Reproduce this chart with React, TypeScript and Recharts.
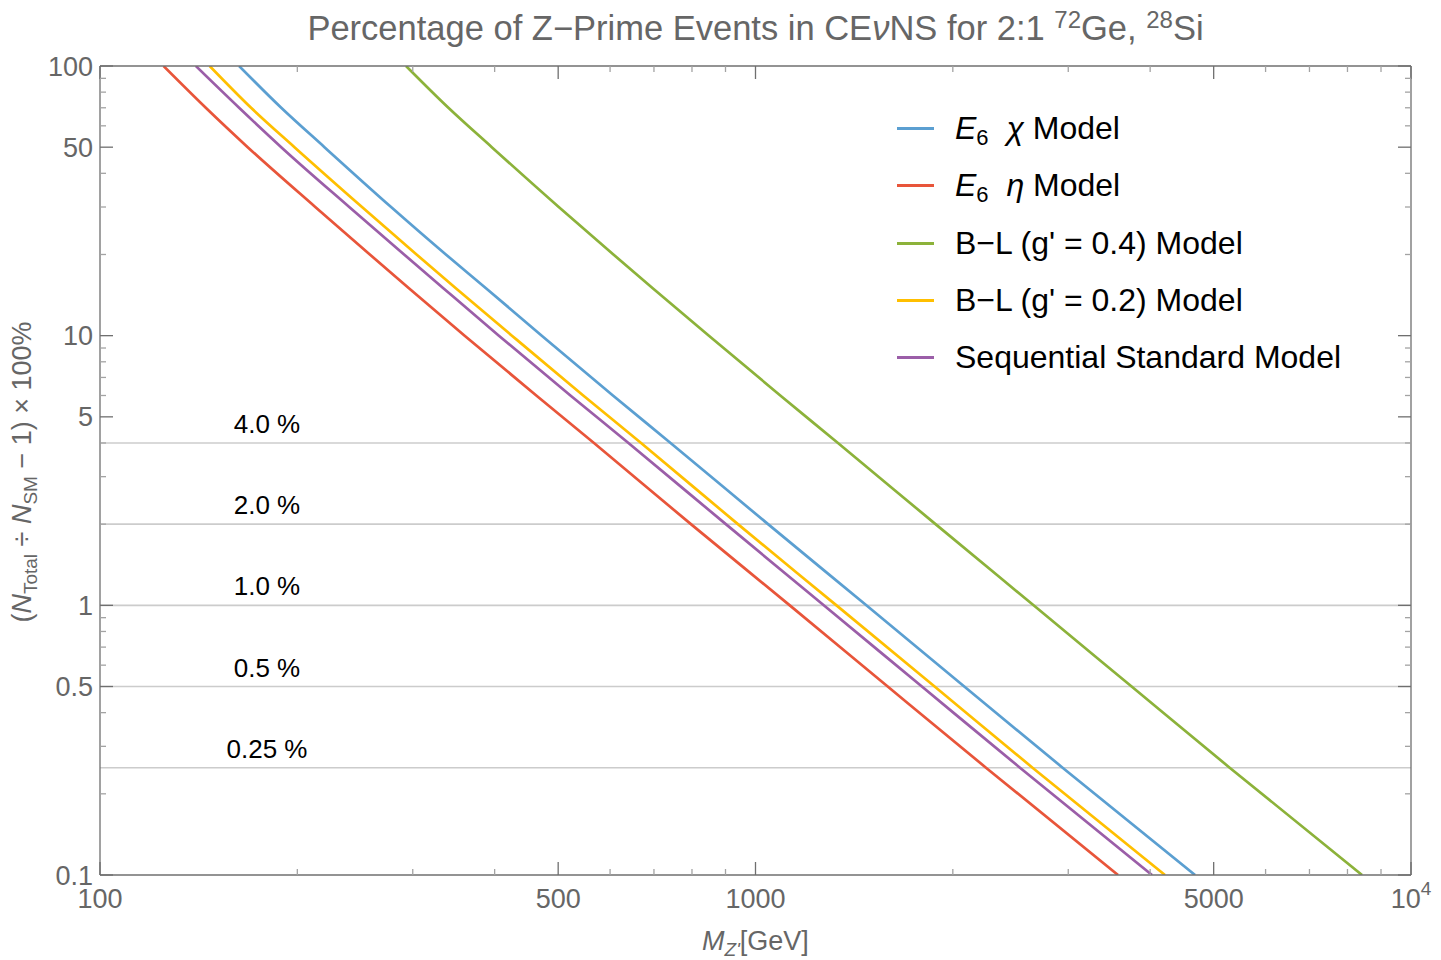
import React from 'react';
import { LineChart, Line, XAxis, YAxis, ReferenceLine } from 'recharts';

// ---- data (Z' mass in GeV at which each curve reaches a given percentage) ----
const percentLevels = [100, 70, 50, 30, 20, 15, 10, 6, 4, 2, 1, 0.5, 0.25, 0.1];
const e6ChiMass = [163, 189, 220, 278, 337, 388, 472, 606, 742, 1045, 1476, 2082, 2941, 4683];
const e6EtaMass = [125, 145, 168, 213, 258, 296, 360, 463, 567, 797, 1128, 1591, 2247, 3573];
const bl04Mass = [293, 340, 396, 501, 607, 697, 849, 1091, 1336, 1882, 2656, 3748, 5289, 8420];
const bl02Mass = [147, 170, 198, 251, 304, 349, 425, 546, 669, 940, 1329, 1876, 2646, 4214];
const ssmMass = [140, 163, 189, 240, 291, 334, 406, 522, 640, 901, 1271, 1794, 2532, 4026];

const seriesKeys = ['e6chi', 'e6eta', 'bl04', 'bl02', 'ssm'];
const seriesMasses = [e6ChiMass, e6EtaMass, bl04Mass, bl02Mass, ssmMass];
const seriesColors = ['#5b9fd1', '#e8553a', '#8cb23a', '#ffbf00', '#9b5ea8'];

const thresholdLevels = [4, 2, 1, 0.5, 0.25];
const thresholdLabels = ['4.0 %', '2.0 %', '1.0 %', '0.5 %', '0.25 %'];

const xMajorTicks = [100, 500, 1000, 5000, 10000];
const xMinorTicks = [200, 300, 400, 600, 700, 800, 900, 2000, 3000, 4000, 6000, 7000, 8000, 9000];
const yMajorTicks = [0.1, 0.5, 1, 5, 10, 50, 100];
const yMinorTicks = [0.2, 0.3, 0.4, 0.6, 0.7, 0.8, 0.9, 2, 3, 4, 6, 7, 8, 9, 20, 30, 40, 60, 70, 80, 90];

const FONT = "'Liberation Sans', Arial, Helvetica, sans-serif";
const AXIS_GRAY = '#6f6f6f';
const MINOR_GRAY = '#a3a3a3';
const TEXT_GRAY = '#666666';
const MAJOR_LEN = 13;
const MINOR_LEN = 6;

const xAllTicks = [...xMajorTicks, ...xMinorTicks].sort((a, b) => a - b);
const yAllTicks = [...yMajorTicks, ...yMinorTicks].sort((a, b) => a - b);

const seriesData = seriesMasses.map((masses) =>
  masses.map((m, i) => ({ x: m, y: percentLevels[i] }))
);

function BottomTick(props: any) {
  const { x, y, payload } = props;
  const v = payload.value;
  const major = xMajorTicks.includes(v);
  return (
    <g>
      <line x1={x} x2={x} y1={y} y2={y - (major ? MAJOR_LEN : MINOR_LEN)} stroke={major ? AXIS_GRAY : MINOR_GRAY} strokeWidth={1.3} />
      {major && (
        v === 10000 ? (
          <text x={x} y={y + 33} textAnchor="middle" fontSize={27} fill={TEXT_GRAY} fontFamily={FONT}>
            10<tspan dy={-13} fontSize={19}>4</tspan>
          </text>
        ) : (
          <text x={x} y={y + 33} textAnchor="middle" fontSize={27} fill={TEXT_GRAY} fontFamily={FONT}>{String(v)}</text>
        )
      )}
    </g>
  );
}

function TopTick(props: any) {
  const { x, y, payload } = props;
  const major = xMajorTicks.includes(payload.value);
  return <line x1={x} x2={x} y1={y} y2={y + (major ? MAJOR_LEN : MINOR_LEN)} stroke={major ? AXIS_GRAY : MINOR_GRAY} strokeWidth={1.3} />;
}

function LeftTick(props: any) {
  const { x, y, payload } = props;
  const v = payload.value;
  const major = yMajorTicks.includes(v);
  return (
    <g>
      <line x1={x} x2={x + (major ? MAJOR_LEN : MINOR_LEN)} y1={y} y2={y} stroke={major ? AXIS_GRAY : MINOR_GRAY} strokeWidth={1.3} />
      {major && (
        <text x={x - 7} y={y + 9.5} textAnchor="end" fontSize={27} fill={TEXT_GRAY} fontFamily={FONT}>{String(v)}</text>
      )}
    </g>
  );
}

function RightTick(props: any) {
  const { x, y, payload } = props;
  const major = yMajorTicks.includes(payload.value);
  return <line x1={x} x2={x - (major ? MAJOR_LEN : MINOR_LEN)} y1={y} y2={y} stroke={major ? AXIS_GRAY : MINOR_GRAY} strokeWidth={1.3} />;
}

function ThresholdLabel(props: any) {
  const { viewBox, text } = props;
  if (!viewBox) return null;
  return (
    <text x={viewBox.x + 167} y={viewBox.y - 10} textAnchor="middle" fontSize={26} fill="#000" fontFamily={FONT}>{text}</text>
  );
}

const subStyle: React.CSSProperties = { fontSize: 22, verticalAlign: -6, lineHeight: 0 };

function LegendLabel({ k }: { k: string }) {
  if (k === 'e6chi')
    return (<span><i>E</i><sub style={subStyle}>6</sub>&nbsp;&nbsp;<i>χ</i> Model</span>);
  if (k === 'e6eta')
    return (<span><i>E</i><sub style={subStyle}>6</sub>&nbsp;&nbsp;<i>η</i> Model</span>);
  if (k === 'bl04') return <span>B−L (g' = 0.4) Model</span>;
  if (k === 'bl02') return <span>B−L (g' = 0.2) Model</span>;
  return <span>Sequential Standard Model</span>;
}

const legendRowY = [128, 185, 243, 300, 357];

export default function App() {
  return (
    <div style={{ position: 'absolute', left: 0, top: 0, width: 1441, height: 960, background: '#fff', fontFamily: FONT }}>
      <LineChart width={1441} height={960} margin={{ top: 65, right: 29, bottom: 0, left: 0 }}>
        <XAxis
          xAxisId="b" orientation="bottom" type="number" dataKey="x" scale="log"
          domain={[100, 10000]} allowDataOverflow ticks={xAllTicks} interval={0}
          tickSize={0} tickMargin={0} tickLine={false} height={85}
          axisLine={{ stroke: AXIS_GRAY, strokeWidth: 1.3 }}
          tick={(p: any) => <BottomTick {...p} />}
        />
        <XAxis
          xAxisId="t" orientation="top" type="number" dataKey="x" scale="log"
          domain={[100, 10000]} allowDataOverflow ticks={xAllTicks} interval={0}
          tickSize={0} tickMargin={0} tickLine={false} height={1}
          axisLine={{ stroke: AXIS_GRAY, strokeWidth: 1.3 }}
          tick={(p: any) => <TopTick {...p} />}
        />
        <YAxis
          yAxisId="l" orientation="left" type="number" scale="log"
          domain={[0.1, 100]} allowDataOverflow ticks={yAllTicks} interval={0}
          tickSize={0} tickMargin={0} tickLine={false} width={100}
          axisLine={{ stroke: AXIS_GRAY, strokeWidth: 1.3 }}
          tick={(p: any) => <LeftTick {...p} />}
        />
        <YAxis
          yAxisId="r" orientation="right" type="number" scale="log"
          domain={[0.1, 100]} allowDataOverflow ticks={yAllTicks} interval={0}
          tickSize={0} tickMargin={0} tickLine={false} width={1}
          axisLine={{ stroke: AXIS_GRAY, strokeWidth: 1.3 }}
          tick={(p: any) => <RightTick {...p} />}
        />
        {thresholdLevels.map((lv, i) => (
          <ReferenceLine
            key={'th' + lv} xAxisId="b" yAxisId="l" y={lv}
            stroke="#cccccc" strokeWidth={1.6}
            label={<ThresholdLabel text={thresholdLabels[i]} />}
          />
        ))}
        {seriesKeys.map((k, i) => (
          <Line
            key={k} xAxisId="b" yAxisId="l" data={seriesData[i]} dataKey="y"
            type="monotone" stroke={seriesColors[i]} strokeWidth={2.7} dot={false}
            isAnimationActive={false}
          />
        ))}
      </LineChart>

      {/* title */}
      <div style={{ position: 'absolute', left: 100, width: 1311, top: 11, textAlign: 'center', fontSize: 34.5, lineHeight: '34px', color: TEXT_GRAY, whiteSpace: 'nowrap' }}>
        Percentage of Z−Prime Events in CE<i>ν</i>NS for 2:1 <sup style={{ fontSize: 24, verticalAlign: 12, lineHeight: 0 }}>72</sup>Ge, <sup style={{ fontSize: 24, verticalAlign: 12, lineHeight: 0 }}>28</sup>Si
      </div>

      {/* x axis label */}
      <div style={{ position: 'absolute', left: 100, width: 1311, top: 928, textAlign: 'center', fontSize: 27, lineHeight: '27px', color: TEXT_GRAY, whiteSpace: 'nowrap' }}>
        <i>M</i><sub style={{ fontSize: 19, verticalAlign: -6, lineHeight: 0 }}><i>Z'</i></sub>[GeV]
      </div>

      {/* y axis label */}
      <div style={{ position: 'absolute', left: 22 - 300, top: 472 - 20, width: 600, height: 40, lineHeight: '40px', textAlign: 'center', transform: 'rotate(-90deg)', fontSize: 27, color: TEXT_GRAY, whiteSpace: 'nowrap' }}>
        (<i>N</i><sub style={{ fontSize: 19, verticalAlign: -6, lineHeight: 0 }}>Total</sub> ÷ <i>N</i><sub style={{ fontSize: 19, verticalAlign: -6, lineHeight: 0 }}>SM</sub> − 1) × 100%
      </div>

      {/* legend */}
      {seriesKeys.map((k, i) => (
        <div key={'lg' + k} style={{ position: 'absolute', left: 897, top: legendRowY[i] - 20, height: 40, display: 'flex', alignItems: 'center', whiteSpace: 'nowrap' }}>
          <span style={{ display: 'inline-block', width: 37, height: 3, background: seriesColors[i], marginRight: 21 }} />
          <span style={{ fontSize: 32, color: '#000', lineHeight: '40px' }}><LegendLabel k={k} /></span>
        </div>
      ))}
    </div>
  );
}
